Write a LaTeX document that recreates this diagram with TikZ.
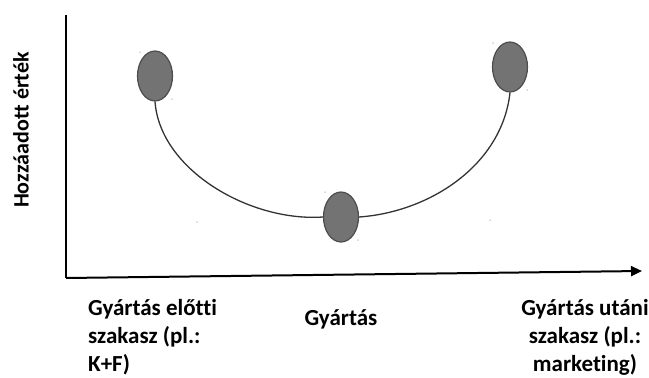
\documentclass[tikz,border=0pt]{standalone}
\usepackage{fontspec}
\setmainfont{Carlito}[Ligatures={NoCommon}]
\usetikzlibrary{arrows.meta,shapes.geometric}
\begin{document}
\begin{tikzpicture}[x=1pt,y=-1pt,
  dot/.style={ellipse,draw=black!70,line width=1.2pt,fill=black!55,minimum width=35pt,minimum height=50pt,inner sep=0pt},
  axis/.style={line width=2pt,black},
  curve/.style={line width=1.3pt,black!80},
  speck/.style={fill=black!30,circle,inner sep=0pt,minimum size=1.5pt},
  lbl/.style={font=\bfseries\fontsize{23}{28}\selectfont,inner sep=0pt}]
\useasboundingbox (0,0) rectangle (649,378);
\coordinate (top) at (66,15);
\coordinate (origin) at (66,278);
\coordinate (xend) at (642,271);
\draw[axis] (top) -- (origin);
\draw[axis,-{Triangle[length=11pt,width=10pt]}] (origin) -- (xend);
\node[dot] (L) at (155,76) {};
\node[dot] (M) at (341,217) {};
\node[dot] (R) at (510,67) {};
\draw[curve] (L.south) .. controls (160,170) and (250,222) .. (M.west);
\draw[curve] (M.east) .. controls (430,212) and (502,165) .. (R.south);
\node[speck] (s1) at (140,52) {};
\node[speck] (s2) at (172,99) {};
\node[speck] (s3) at (197,222) {};
\node[speck] (s4) at (325,192) {};
\node[speck] (s5) at (358,240) {};
\node[speck] (s6) at (493,43) {};
\node[speck] (s7) at (527,90) {};
\node[speck] (s8) at (490,220) {};
\node[lbl,font=\bfseries\fontsize{22}{26}\selectfont,rotate=90] (ylab) at (21,130) {Hozzáadott érték};
\node[lbl,anchor=base west,align=left] (pre) at (88,371) {Gyártás előtti\\szakasz (pl.:\\K+F)};
\node[lbl,anchor=base] (mid) at (341,325) {Gyártás};
\node[lbl,anchor=base,align=center] (post) at (585,371) {Gyártás utáni\\szakasz (pl.:\\marketing)};
\end{tikzpicture}
\end{document}
